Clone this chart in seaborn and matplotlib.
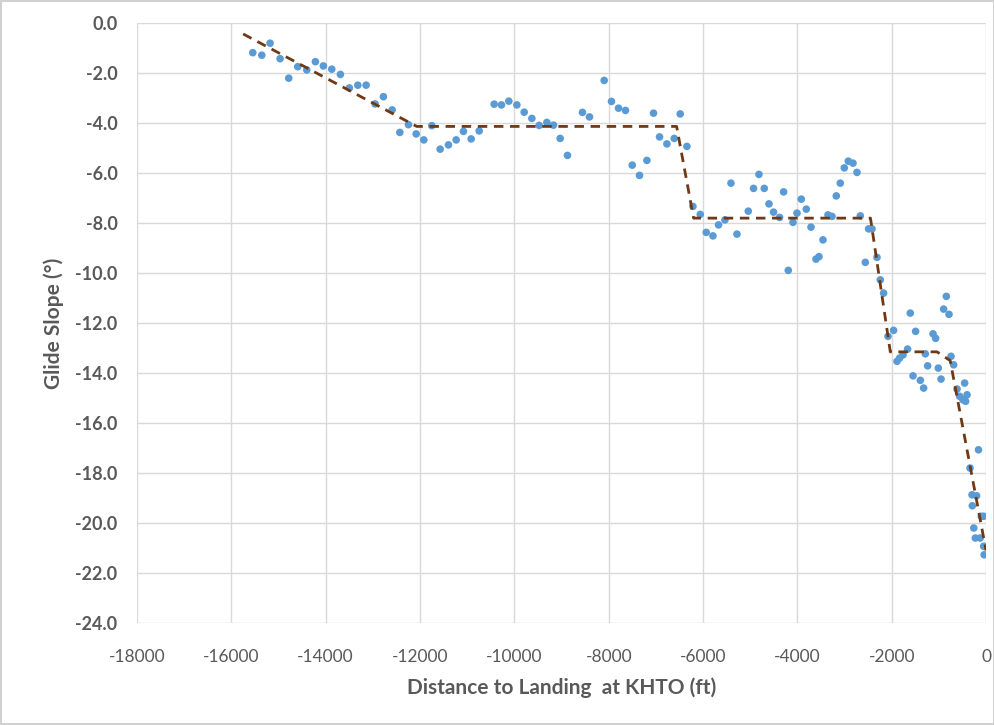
import matplotlib
matplotlib.use("Agg")
import matplotlib.pyplot as plt
import seaborn as sns
import pandas as pd

# Measured glide slope along the approach
distance_ft = [
    -15546, -15355, -15179, -14967, -14783, -14592, -14401, -14218, -14049, -13871,
    -13688, -13497, -13319, -13143, -12952, -12776, -12591, -12428, -12245, -12082,
    -11920, -11750, -11573, -11397, -11234, -11079, -10916, -10746, -10428, -10273,
    -10117, -9947, -9792, -9629, -9474, -9311, -9171, -9029, -8874, -8556,
    -8407, -8096, -7941, -7792, -7644, -7501, -7347, -7190, -7050, -6922,
    -6766, -6611, -6484, -6342, -6214, -6059, -5932, -5790, -5671, -5536,
    -5408, -5281, -5041, -4929, -4814, -4702, -4602, -4505, -4377, -4292,
    -4193, -4093, -4008, -3917, -3811, -3711, -3605, -3542, -3457, -3351,
    -3266, -3175, -3090, -3005, -2920, -2821, -2736, -2666, -2560, -2490,
    -2418, -2312, -2242, -2172, -2079, -1960, -1888, -1832, -1760, -1663,
    -1606, -1548, -1493, -1393, -1323, -1287, -1238, -1124, -1069, -1012,
    -954, -899, -842, -785, -742, -687, -615, -560, -488, -454,
    -403, -433, -160, -340, -297, -200, -291, -51, -100, -260,
    -227, -125, -51, -40,
]
glide_slope_deg = [
    -1.18, -1.28, -0.80, -1.42, -2.20, -1.74, -1.87, -1.54, -1.71, -1.84,
    -2.05, -2.59, -2.48, -2.48, -3.23, -2.94, -3.47, -4.37, -4.06, -4.43,
    -4.67, -4.10, -5.04, -4.87, -4.67, -4.33, -4.63, -4.31, -3.24, -3.27,
    -3.12, -3.27, -3.56, -3.81, -4.09, -3.97, -4.08, -4.61, -5.29, -3.57,
    -3.75, -2.29, -3.13, -3.40, -3.49, -5.68, -6.09, -5.49, -3.60, -4.55,
    -4.83, -4.61, -3.63, -4.93, -7.33, -7.65, -8.37, -8.51, -8.07, -7.87,
    -6.40, -8.44, -7.52, -6.61, -6.05, -6.61, -7.23, -7.56, -7.77, -6.75,
    -9.89, -7.97, -7.60, -7.04, -7.44, -8.16, -9.44, -9.34, -8.67, -7.67,
    -7.73, -6.91, -6.40, -5.79, -5.52, -5.60, -5.97, -7.71, -9.57, -8.23,
    -8.23, -9.37, -10.27, -10.80, -12.53, -12.29, -13.53, -13.40, -13.27, -13.04,
    -11.60, -14.11, -12.33, -14.29, -14.60, -13.23, -13.71, -12.43, -12.61, -13.80,
    -14.24, -11.44, -10.93, -11.65, -13.33, -13.67, -14.64, -14.93, -15.07, -14.40,
    -14.87, -15.13, -17.07, -17.80, -18.87, -18.91, -19.31, -19.73, -19.73, -20.20,
    -20.60, -20.60, -20.93, -21.27,
]

# Piecewise trend of the approach profile
trend_distance_ft = [-15750, -12070, -6560, -6200, -2450, -2030, -1040, -760, 0]
trend_slope_deg = [-0.43, -4.13, -4.13, -7.80, -7.80, -13.15, -13.15, -13.50, -21.10]

x_ticks = list(range(-18000, 1, 2000))
y_ticks = list(range(-24, 1, 2))

points = pd.DataFrame({"distance": distance_ft, "slope": glide_slope_deg})
trend = pd.DataFrame({"distance": trend_distance_ft, "slope": trend_slope_deg})

sns.set_theme(style="whitegrid")
plt.rcParams["font.family"] = ["Lato", "DejaVu Sans"]

text_grey = "#595959"
grid_grey = "#D9D9D9"

fig = plt.figure(figsize=(9.95, 7.25), dpi=100)
fig.patch.set_facecolor("white")
fig.patch.set_edgecolor("#D0D0D0")
fig.patch.set_linewidth(1.5)
ax = fig.add_axes([0.1377, 0.1407, 0.8533, 0.8273])

sns.scatterplot(data=points, x="distance", y="slope", ax=ax, color="#5B9BD5",
                s=30, edgecolor="none", zorder=3)
sns.lineplot(data=trend, x="distance", y="slope", ax=ax, sort=False,
             color="#6E3914", linewidth=2.0, zorder=4, estimator=None)
ax.lines[-1].set_dashes((3.4, 2.4))

ax.set_xlim(-18000, 0)
ax.set_ylim(-24, 0)
ax.set_xticks(x_ticks)
ax.set_yticks(y_ticks)
ax.set_xticklabels([str(v) for v in x_ticks], fontsize=12.5, color=text_grey)
ax.set_yticklabels([f"{v:.1f}" for v in y_ticks], fontsize=13,
                   color=text_grey, fontweight="bold")
ax.tick_params(axis="x", pad=19, length=0)
ax.tick_params(axis="y", pad=14, length=0)

ax.grid(True, color=grid_grey, linewidth=1.0)
for spine in ax.spines.values():
    spine.set_visible(False)
ax.set_facecolor("white")

ax.set_xlabel("Distance to Landing  at KHTO (ft)", fontsize=15, color=text_grey,
              fontweight="bold", labelpad=9)
ax.set_ylabel("Glide Slope (\u00b0)", fontsize=15, color=text_grey,
              fontweight="bold", labelpad=8)

fig.savefig("out.png", dpi=100, facecolor=fig.get_facecolor(),
            edgecolor=fig.get_edgecolor())
